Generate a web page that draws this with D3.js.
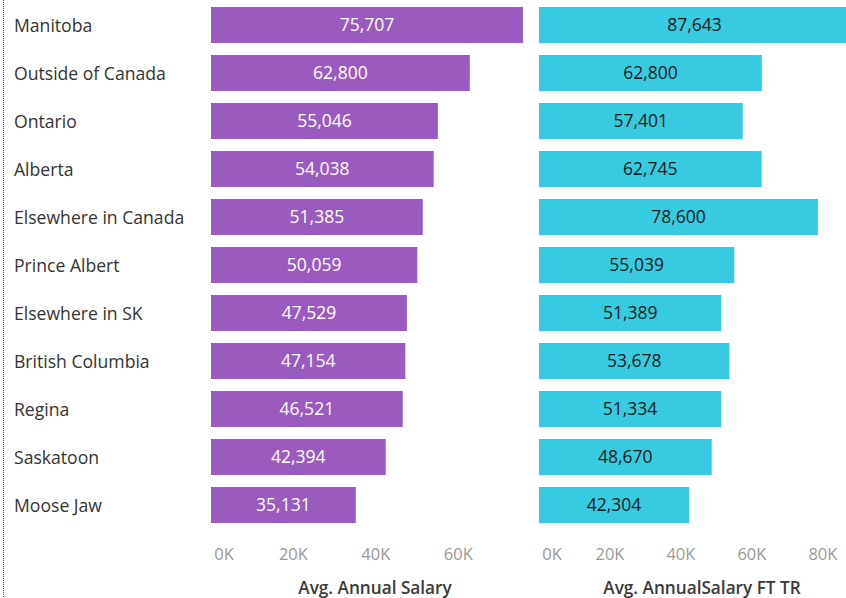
<!DOCTYPE html>
<html>
<head>
<meta charset="utf-8">
<script src="https://cdn.jsdelivr.net/npm/d3@7"></script>
<style>
  body { margin: 0; background: #fff; }
  svg text { font-family: "Open Sans", "Noto Sans", sans-serif; }
</style>
</head>
<body>
<div id="chart"></div>
<script>
const categories = ["Manitoba", "Outside of Canada", "Ontario", "Alberta", "Elsewhere in Canada",
  "Prince Albert", "Elsewhere in SK", "British Columbia", "Regina", "Saskatoon", "Moose Jaw"];
const annualSalary = [75707, 62800, 55046, 54038, 51385, 50059, 47529, 47154, 46521, 42394, 35131];
const annualSalaryFT = [87643, 62800, 57401, 62745, 78600, 55039, 51389, 53678, 51334, 48670, 42304];
const leftTicks = [0, 20000, 40000, 60000];
const rightTicks = [0, 20000, 40000, 60000, 80000];

const width = 846, height = 598;
const svg = d3.select("#chart").append("svg")
  .attr("width", width)
  .attr("height", height);

// dotted frame line on the left
svg.append("line")
  .attr("x1", 3.5).attr("x2", 3.5)
  .attr("y1", 0).attr("y2", height)
  .attr("stroke", "#555")
  .attr("stroke-dasharray", "1,1");

const y = d3.scaleBand()
  .domain(categories)
  .range([1, 529])
  .paddingInner(0.25)
  .paddingOuter(0.125);

// row labels
svg.append("g").selectAll("text")
  .data(categories)
  .enter().append("text")
  .attr("x", 14)
  .attr("y", d => y(d) + y.bandwidth() / 2 + 1)
  .attr("dy", "0.35em")
  .attr("font-size", 17.6)
  .attr("fill", "#333")
  .text(d => d);

const fmt = d3.format(",");
const tickFmt = d => (d / 1000) + "K";

function panel(values, x, color, textColor, ticks, title, titleX) {
  const g = svg.append("g");
  g.selectAll("rect")
    .data(values)
    .enter().append("rect")
    .attr("x", x(0))
    .attr("y", (d, i) => y(categories[i]))
    .attr("width", d => x(d) - x(0))
    .attr("height", y.bandwidth())
    .attr("fill", color);

  g.selectAll("text.val")
    .data(values)
    .enter().append("text")
    .attr("class", "val")
    .attr("x", d => (x(0) + x(d)) / 2)
    .attr("y", (d, i) => y(categories[i]) + y.bandwidth() / 2)
    .attr("dy", "0.35em")
    .attr("text-anchor", "middle")
    .attr("font-size", 17.5)
    .attr("fill", textColor)
    .text(d => fmt(d));

  // axis labels only, no line
  g.selectAll("text.tick")
    .data(ticks)
    .enter().append("text")
    .attr("class", "tick")
    .attr("x", d => d === 0 ? x(0) + 13 : x(d))
    .attr("y", 560)
    .attr("text-anchor", "middle")
    .attr("font-size", 16.5)
    .attr("fill", "#999")
    .text(tickFmt);

  g.append("text")
    .attr("x", titleX)
    .attr("y", 594)
    .attr("text-anchor", "middle")
    .attr("font-size", 17.2)
    .attr("font-weight", 600)
    .attr("fill", "#3a3a3a")
    .text(title);
}

const xLeft = d3.scaleLinear().domain([0, 75707]).range([211, 523]);
const xRight = d3.scaleLinear().domain([0, 87643]).range([539, 850]);

panel(annualSalary, xLeft, "#9a5bbe", "#fff", leftTicks, "Avg. Annual Salary", 375);
panel(annualSalaryFT, xRight, "#38cae1", "#1a1a1a", rightTicks, "Avg. AnnualSalary FT TR", 702);
</script>
</body>
</html>
